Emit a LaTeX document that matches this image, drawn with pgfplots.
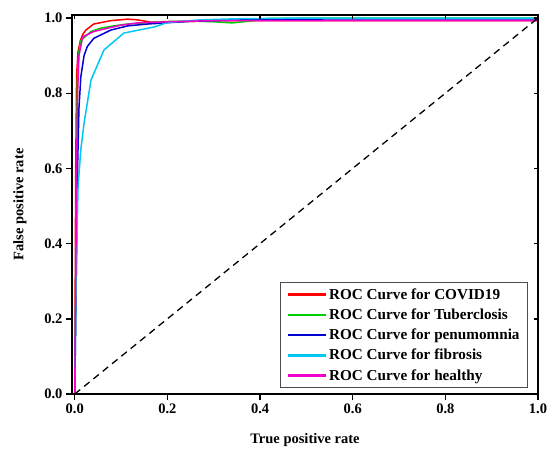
\documentclass[border=0pt]{standalone}
\usepackage{fontspec}
\setmainfont{Liberation Serif}
\usepackage{pgfplots}
\pgfplotsset{compat=1.18}
\definecolor{cRed}{RGB}{255,0,0}
\definecolor{cGreen}{RGB}{0,205,0}
\definecolor{cBlue}{RGB}{0,0,210}
\definecolor{cCyan}{RGB}{0,200,240}
\definecolor{cMag}{RGB}{240,0,200}
\begin{document}
\begin{tikzpicture}
\pgfplotsset{
  common/.style={
    at={(0pt,0pt)}, anchor=south west,
    width=466pt, height=379pt, scale only axis,
    xmin=-0.006, xmax=1.0, ymin=0, ymax=1.008,
    xtick={0,0.2,0.4,0.6,0.8,1.0},
    ytick={0,0.2,0.4,0.6,0.8,1.0},
    axis line style={line width=1.6pt},
    major tick style={line width=1.4pt, black},
    major tick length=6pt,
  }
}
\begin{axis}[common,
  tick align=outside,
  xtick pos=bottom, ytick pos=left,
  /pgf/number format/assume math mode=true,
  /pgf/number format/fixed, /pgf/number format/fixed zerofill,
  /pgf/number format/precision=1,
  ticklabel style={font=\fontsize{14.5}{16}\selectfont\bfseries},
  xlabel={True positive rate}, ylabel={False positive rate},
  label style={font=\fontsize{14.5}{16}\selectfont\bfseries},
  xlabel style={at={([yshift=-46pt]axis description cs:0.5,0)}, anchor=center},
  ylabel style={at={([xshift=-52pt]axis description cs:0,0.5)}, anchor=center},
  legend cell align=left,
  legend style={at={(0.9785,0.016)}, anchor=south east, draw=black!70, line width=0.8pt,
    font=\fontsize{15.2}{17}\selectfont\bfseries, row sep=4pt, inner xsep=6pt, inner ysep=4pt},
  legend image code/.code={\draw[#1, line width=2.6pt] (0pt,0pt) -- (38pt,0pt);},
  every axis plot/.append style={line width=1.5pt},
]
\addplot[cRed] coordinates {(0,0)(0.001,0.3)(0.002,0.6)(0.004,0.85)(0.007,0.91)(0.012,0.94)(0.018,0.958)(0.024,0.968)(0.041,0.984)(0.078,0.993)(0.114,0.997)(0.136,0.995)(0.164,0.989)(0.2,0.99)(0.25,0.991)(0.3,0.993)(0.5,0.993)(1.0,0.993)};
\addlegendentry{ROC Curve for COVID19}
\addplot[cGreen] coordinates {(0,0)(0.002,0.3)(0.004,0.65)(0.006,0.85)(0.009,0.91)(0.013,0.94)(0.035,0.964)(0.056,0.973)(0.084,0.979)(0.114,0.984)(0.186,0.99)(0.25,0.992)(0.3,0.99)(0.34,0.987)(0.38,0.992)(0.42,0.999)(0.6,1.0)(1.0,1.0)};
\addlegendentry{ROC Curve for Tuberclosis}
\addplot[cBlue] coordinates {(0,0)(0.003,0.3)(0.006,0.6)(0.009,0.76)(0.013,0.843)(0.02,0.9)(0.027,0.924)(0.041,0.946)(0.078,0.968)(0.114,0.979)(0.157,0.984)(0.207,0.988)(0.25,0.991)(0.3,0.993)(0.4,0.996)(0.6,0.998)(1.0,0.998)};
\addlegendentry{ROC Curve for penumomnia\hspace{4pt}}
\addplot[cCyan] coordinates {(0,0)(0.003,0.3)(0.007,0.55)(0.013,0.649)(0.02,0.72)(0.035,0.835)(0.063,0.915)(0.106,0.96)(0.171,0.976)(0.2,0.988)(0.27,0.995)(0.35,0.998)(0.5,1.0)(1.0,1.0)};
\addlegendentry{ROC Curve for fibrosis}
\addplot[cMag] coordinates {(0,0)(0.002,0.3)(0.004,0.6)(0.006,0.8)(0.009,0.9)(0.017,0.95)(0.041,0.964)(0.071,0.973)(0.1,0.981)(0.136,0.987)(0.2,0.99)(0.3,0.993)(0.5,0.993)(1.0,0.993)};
\addlegendentry{ROC Curve for healthy}
\addplot[black, line width=1.3pt, dash pattern=on 7pt off 5pt, forget plot] coordinates {(0,0)(1,1)};
\end{axis}
\begin{axis}[common,
  tick align=inside, xtick pos=top, ytick pos=right,
  xticklabels={}, yticklabels={},
  major tick length=4pt,
]
\end{axis}
\pgfresetboundingbox
\path[use as bounding box] (-72pt,-56pt) rectangle (480pt,394pt);
\end{tikzpicture}
\end{document}
